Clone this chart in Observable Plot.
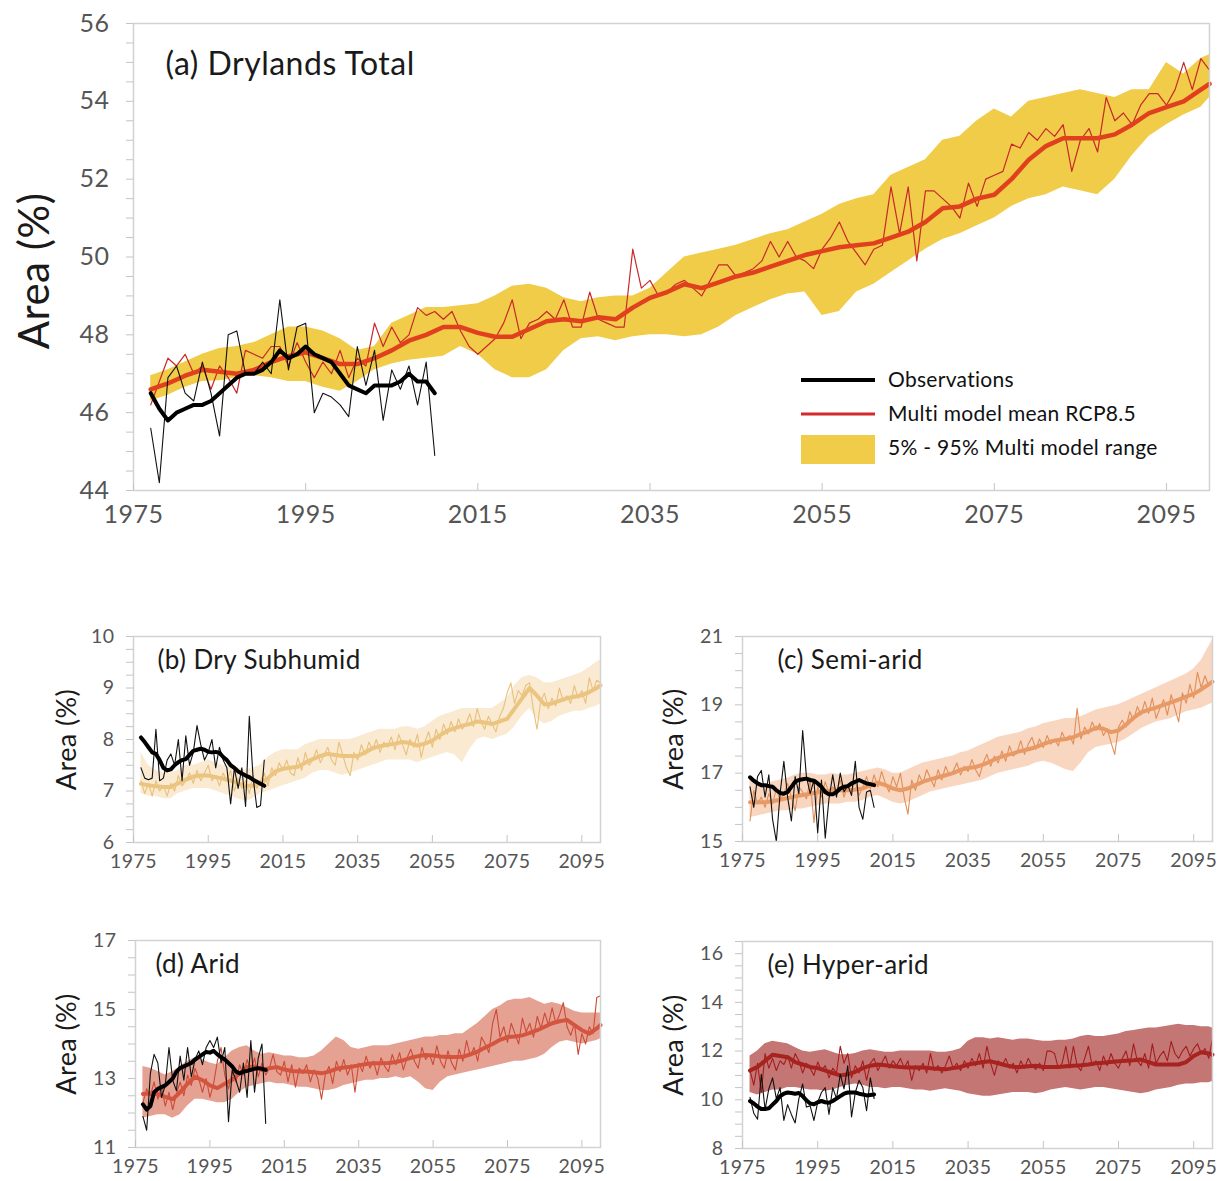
<!DOCTYPE html>
<html><head><meta charset="utf-8">
<script src="https://cdn.jsdelivr.net/npm/d3@7"></script>
<script src="https://cdn.jsdelivr.net/npm/@observablehq/plot@0.6"></script>
<style>
html,body{margin:0;padding:0;background:#fff;}
#root{position:relative;width:1219px;height:1181px;overflow:hidden;background:#fff;font-family:Lato,"Open Sans",sans-serif;}
#root svg{position:absolute;overflow:visible;}
</style></head>
<body><div id="root"></div>
<script>
// ---------- year grids ----------
const modelYears = d3.range(1977, 2101);              // annual model mean
const obsYears   = d3.range(1977, 2011);              // observations
const envYears   = d3.range(1977, 2100, 2).concat([2100]); // smoothed mean & 5-95% range
const xTicks = [1975, 1995, 2015, 2035, 2055, 2075, 2095];

// ---------- (a) Drylands Total ----------
const aModel = [46.2,46.8,47.4,47.2,47.5,47.0,47.2,46.6,47.2,46.9,
46.5,47.6,47.5,47.4,47.7,47.7,47.2,47.8,47.3,46.9,
47.3,47.0,47.6,46.9,47.4,47.2,48.3,47.7,48.2,47.8,
48.0,48.7,48.5,48.6,48.4,48.6,48.1,47.7,47.5,47.7,
47.9,48.3,48.9,47.9,48.3,48.4,48.6,48.4,48.9,48.2,
48.2,49.1,48.4,48.3,48.2,48.2,50.2,49.2,49.4,49.0,
49.1,49.3,49.4,49.2,49.0,49.4,49.8,49.8,49.5,49.6,
49.7,49.9,50.4,50.0,50.4,50.0,49.9,49.7,50.2,50.5,
50.9,50.4,50.1,49.8,50.2,50.3,51.8,50.6,51.8,49.9,
51.7,51.7,51.5,51.3,51.0,51.9,51.3,52.0,52.1,52.2,
52.9,52.8,53.2,53.0,53.3,53.1,53.4,52.2,53.0,53.3,
52.7,54.1,53.5,53.7,53.4,53.9,54.2,54.2,53.9,54.3,
55.0,54.3,55.1,54.8];
const aSmooth = [46.6,46.75,46.95,47.1,47.05,47.0,47.1,47.3,47.45,47.55,
47.4,47.25,47.25,47.4,47.6,47.85,48.0,48.2,48.2,48.05,
47.95,47.95,48.15,48.35,48.4,48.35,48.45,48.4,48.7,48.95,
49.1,49.3,49.2,49.35,49.5,49.6,49.75,49.9,50.05,50.15,
50.25,50.3,50.35,50.5,50.65,50.9,51.25,51.3,51.5,51.6,
52.0,52.5,52.85,53.05,53.05,53.05,53.15,53.4,53.7,53.85,
54.0,54.3,54.45];
const aHigh = [46.95,47.1,47.3,47.5,47.65,47.7,47.8,48.0,48.2,48.2,
48.1,47.9,47.6,47.7,48.3,48.5,48.7,48.7,48.75,48.8,
49.0,49.25,49.3,49.2,48.95,48.85,48.95,49.0,49.0,49.2,
49.6,50.0,50.1,50.2,50.3,50.45,50.6,50.7,50.9,51.1,
51.35,51.5,51.6,52.1,52.3,52.5,53.0,53.1,53.5,53.8,
53.6,54.0,54.1,54.2,54.3,54.2,54.1,54.3,54.3,55.0,
54.7,55.1,55.2];
const aLow = [46.3,46.45,46.65,46.8,46.82,46.9,46.95,46.9,46.8,46.8,
46.65,46.55,46.8,47.1,47.25,47.35,47.4,47.45,47.7,47.5,
47.1,46.9,46.9,47.1,47.6,47.9,47.95,47.85,47.95,48.0,
48.0,47.95,48.0,48.2,48.5,48.7,48.9,49.05,49.1,48.5,
48.6,49.1,49.3,49.6,49.9,50.2,50.45,50.6,50.8,51.0,
51.3,51.5,51.6,51.8,51.7,51.6,52.0,52.6,53.1,53.4,
53.65,53.85,54.1];
const aObs = [45.6,44.2,46.9,47.2,46.5,46.3,47.3,46.5,45.4,48.0,
48.1,47.0,47.0,47.3,47.0,48.9,47.1,48.2,48.3,46.0,
46.5,46.4,46.2,45.9,47.7,46.7,47.6,45.8,47.1,46.6,
47.2,46.2,47.3,44.9];
const aObsSmooth = [46.5,46.1,45.8,46.0,46.1,46.2,46.2,46.3,46.5,46.7,
46.9,47.0,47.0,47.1,47.3,47.6,47.4,47.5,47.7,47.5,
47.4,47.3,47.0,46.7,46.6,46.5,46.7,46.7,46.7,46.8,
47.0,46.8,46.8,46.5];

// ---------- (b) Dry Subhumid ----------
const bModel = [7.2,6.95,7.15,6.9,7.2,7.0,7.1,6.9,7.15,7.0,
7.3,7.1,7.2,7.35,7.15,7.4,7.2,7.35,7.5,7.2,
7.3,7.1,7.35,7.2,7.4,7.0,7.25,7.05,7.2,6.95,
7.3,7.05,7.2,7.35,7.1,7.45,7.3,7.55,7.4,7.6,
7.35,7.3,7.65,7.4,7.75,7.5,7.6,7.8,7.55,7.7,
7.85,7.6,7.5,7.95,7.7,7.45,7.3,7.75,7.6,7.9,
7.7,7.95,7.8,8.0,7.75,7.95,7.85,8.05,7.8,8.1,
7.9,7.7,8.0,7.85,8.1,7.65,7.95,8.15,7.85,8.2,
8.0,8.3,8.1,8.35,8.15,8.4,8.2,8.3,8.5,8.25,
8.6,8.35,8.2,8.45,8.3,8.15,8.45,8.6,8.9,9.1,
8.7,8.95,8.85,9.05,9.1,8.6,8.2,8.75,8.9,8.6,
8.8,8.65,9.0,8.75,8.85,8.7,9.05,8.8,8.95,8.7,
9.2,8.95,9.15,9.1];
const bSmooth = [7.14,7.11,7.09,7.08,7.08,7.15,7.22,7.28,7.3,7.3,
7.27,7.24,7.2,7.15,7.1,7.1,7.15,7.25,7.38,7.43,
7.45,7.47,7.55,7.62,7.68,7.72,7.7,7.68,7.68,7.68,
7.75,7.83,7.87,7.9,7.92,7.95,7.93,7.88,7.92,7.98,
8.08,8.17,8.22,8.27,8.3,8.35,8.33,8.3,8.35,8.4,
8.6,8.8,9.0,8.85,8.68,8.7,8.75,8.8,8.83,8.86,
8.92,9.0,9.05];
const bLow = [6.95,6.9,6.9,6.85,6.85,6.95,7.0,7.05,7.05,7.05,
7.0,6.95,6.9,6.85,6.8,6.85,6.95,7.0,7.05,7.1,
7.15,7.2,7.25,7.35,7.4,7.4,7.35,7.3,7.35,7.4,
7.45,7.5,7.55,7.6,7.6,7.6,7.6,7.55,7.6,7.65,
7.7,7.75,7.7,7.55,7.8,8.0,8.05,8.0,8.05,8.1,
8.25,8.45,8.6,8.4,8.3,8.35,8.45,8.5,8.55,8.55,
8.6,8.65,8.7];
const bHigh = [7.75,7.5,7.4,7.35,7.35,7.4,7.5,7.5,7.55,7.6,
7.55,7.5,7.45,7.45,7.4,7.45,7.5,7.65,7.75,7.8,
7.8,7.8,7.9,7.95,8.0,8.0,8.0,8.0,8.0,8.05,
8.1,8.15,8.2,8.2,8.2,8.25,8.25,8.2,8.25,8.35,
8.45,8.5,8.55,8.6,8.6,8.6,8.6,8.6,8.7,8.8,
9.05,9.2,9.25,9.2,9.1,9.1,9.15,9.2,9.25,9.3,
9.4,9.5,9.55];
const bObs = [7.45,7.25,7.22,7.25,8.2,7.2,7.25,7.6,7.72,7.5,
8.0,7.2,8.07,7.5,7.75,8.27,7.9,7.6,7.75,8.0,
7.45,7.85,7.6,7.45,6.75,7.45,7.05,7.45,6.7,8.45,
7.27,6.68,6.72,7.6];
const bObsSmooth = [8.04,7.95,7.85,7.75,7.72,7.6,7.45,7.4,7.42,7.5,
7.56,7.6,7.62,7.7,7.78,7.8,7.82,7.8,7.76,7.75,
7.76,7.74,7.66,7.6,7.5,7.45,7.38,7.34,7.3,7.27,
7.22,7.18,7.14,7.1];

// ---------- (c) Semi-arid ----------
const cModel = [15.6,16.5,16.1,16.3,16.0,16.4,16.1,16.55,16.2,16.4,
16.7,16.3,15.9,16.6,16.45,16.25,16.8,15.55,16.6,16.3,
16.75,16.4,16.6,16.45,16.8,16.3,16.65,16.5,16.75,16.35,
16.6,16.9,16.55,16.95,16.6,17.05,16.7,16.45,16.9,16.6,
17.0,16.3,15.8,16.8,16.5,16.95,16.7,17.1,16.85,16.6,
17.1,16.8,17.2,16.95,17.05,17.3,16.95,17.2,17.05,17.4,
17.1,16.9,17.3,17.55,17.2,17.5,17.3,17.65,17.35,17.8,
17.5,17.6,17.95,17.55,17.85,18.05,17.7,18.0,17.75,18.1,
17.85,18.0,17.8,18.2,17.95,18.1,17.85,18.9,18.0,18.35,
18.15,18.5,18.25,18.45,18.1,18.3,17.9,17.55,18.35,18.55,
18.35,18.8,18.55,18.95,18.7,19.1,18.75,19.2,18.6,18.9,
19.15,18.7,19.3,18.9,18.5,19.35,19.05,19.6,19.2,19.95,
19.5,19.85,19.55,19.7];
const cSmooth = [16.15,16.15,16.15,16.18,16.22,16.27,16.32,16.36,16.4,16.44,
16.47,16.5,16.5,16.5,16.52,16.55,16.65,16.72,16.65,16.55,
16.5,16.55,16.65,16.75,16.82,16.88,16.94,17.0,17.1,17.15,
17.18,17.25,17.35,17.45,17.52,17.58,17.65,17.7,17.76,17.85,
17.93,17.97,18.0,18.05,18.15,18.22,18.33,18.3,18.2,18.25,
18.42,18.62,18.78,18.85,18.92,19.0,19.07,19.15,19.24,19.32,
19.45,19.6,19.68];
const cLow = [15.7,15.75,15.8,15.85,15.9,15.9,15.95,15.95,16.0,16.05,
16.1,16.1,16.1,16.15,16.15,16.2,16.3,16.35,16.25,16.15,
16.1,16.15,16.25,16.35,16.45,16.5,16.55,16.6,16.65,16.7,
16.75,16.8,16.9,17.0,17.05,17.1,17.15,17.2,17.3,17.35,
17.3,17.2,17.1,17.05,17.3,17.6,17.75,17.8,17.85,17.9,
18.0,18.15,18.3,18.4,18.5,18.55,18.6,18.7,18.8,18.85,
18.9,19.0,19.05];
const cHigh = [16.85,16.7,16.65,16.75,16.8,16.85,16.95,17.0,17.0,16.95,
16.95,17.0,16.95,16.95,17.0,17.05,17.1,17.15,17.1,17.0,
17.0,17.1,17.2,17.3,17.35,17.4,17.45,17.5,17.6,17.65,
17.75,17.85,17.95,18.05,18.1,18.15,18.2,18.3,18.35,18.45,
18.5,18.55,18.6,18.6,18.65,18.75,18.85,18.9,18.95,19.0,
19.1,19.2,19.3,19.4,19.5,19.6,19.7,19.8,19.9,20.05,
20.3,20.7,20.9];
const cObs = [16.6,16.0,16.9,17.08,16.3,16.95,15.65,15.0,16.4,17.35,
16.3,15.6,16.9,16.4,18.25,16.9,16.4,16.8,15.25,16.8,
15.1,16.25,16.95,16.3,17.0,16.45,16.65,16.35,17.35,16.0,
15.65,16.45,16.5,16.0];
const cObsSmooth = [16.88,16.78,16.7,16.65,16.65,16.62,16.6,16.5,16.42,16.4,
16.45,16.6,16.75,16.8,16.82,16.84,16.8,16.78,16.7,16.6,
16.45,16.38,16.38,16.45,16.55,16.6,16.62,16.7,16.75,16.8,
16.75,16.7,16.68,16.65];

// ---------- (d) Arid ----------
const dModel = [12.3,12.7,12.5,12.9,12.4,12.75,12.2,12.6,12.1,12.55,
12.9,12.5,13.1,12.8,13.3,13.0,12.6,13.0,12.45,12.85,
13.5,13.9,13.1,12.7,13.2,12.9,13.4,13.1,13.55,13.2,
13.6,13.05,13.45,13.1,13.3,13.7,13.2,13.1,13.5,12.9,
13.4,12.75,13.3,13.15,13.4,12.9,13.25,13.0,12.4,13.1,
13.35,12.85,13.5,13.2,13.55,13.1,13.4,12.6,13.45,13.2,
13.65,13.3,13.5,13.1,13.6,13.35,13.2,13.7,13.4,13.75,
13.25,13.6,13.85,13.5,13.3,13.9,13.55,13.7,13.4,13.95,
13.5,13.3,13.8,13.45,13.25,13.85,13.5,14.1,13.65,13.9,
13.5,14.2,14.0,13.75,14.6,15.0,14.2,14.5,14.05,14.6,
14.3,14.0,14.75,14.35,14.6,14.2,14.8,14.45,14.9,14.55,
15.05,14.6,14.85,15.2,14.5,14.25,14.6,13.7,14.3,14.0,
14.5,14.3,15.35,15.4];
const dSmooth = [12.55,12.57,12.55,12.47,12.4,12.6,12.85,13.05,12.95,12.8,
12.72,12.85,12.96,13.15,13.33,13.35,13.25,13.3,13.33,13.26,
13.22,13.2,13.2,13.18,13.15,13.2,13.28,13.32,13.34,13.38,
13.42,13.44,13.44,13.45,13.48,13.53,13.6,13.65,13.68,13.67,
13.64,13.62,13.62,13.63,13.7,13.78,13.9,14.0,14.12,14.2,
14.22,14.25,14.32,14.4,14.5,14.6,14.66,14.7,14.55,14.4,
14.3,14.45,14.55];
const dLow = [11.85,11.9,11.95,11.95,11.85,11.95,12.2,12.4,12.4,12.35,
12.3,12.3,12.4,12.6,12.75,12.8,12.85,12.9,12.85,12.85,
12.8,12.75,12.75,12.7,12.65,12.65,12.7,12.8,12.85,12.9,
12.95,12.95,13.0,13.0,13.05,13.0,13.05,12.9,12.7,12.65,
12.9,13.05,13.1,13.15,13.2,13.25,13.3,13.35,13.4,13.45,
13.5,13.5,13.55,13.6,13.7,13.9,14.05,14.1,14.05,14.0,
14.05,14.1,14.15];
const dHigh = [13.35,13.3,13.2,13.1,13.2,13.35,13.5,13.6,13.55,13.45,
13.4,13.6,13.8,13.9,13.95,13.8,13.7,13.75,13.7,13.65,
13.65,13.6,13.6,13.65,13.8,14.0,14.2,14.1,13.9,13.85,
13.9,13.95,13.95,13.95,14.0,14.05,14.1,14.15,14.2,14.2,
14.25,14.25,14.3,14.3,14.45,14.6,14.8,15.0,15.1,15.25,
15.3,15.3,15.35,15.25,15.15,15.2,15.15,15.05,14.95,14.9,
14.9,14.9,14.9];
const dObs = [11.9,11.5,13.15,13.7,13.45,12.45,12.8,13.9,12.95,12.65,
13.65,12.95,13.9,13.05,13.55,13.8,13.4,13.9,14.1,13.9,
14.2,13.45,13.9,11.75,13.25,12.95,12.6,13.45,12.45,14.1,
12.6,13.6,14.0,11.7];
const dObsSmooth = [12.25,12.1,12.2,12.6,12.7,12.75,12.8,12.9,13.0,13.2,
13.3,13.35,13.4,13.45,13.55,13.62,13.7,13.77,13.75,13.8,
13.7,13.62,13.55,13.45,13.35,13.2,13.15,13.2,13.22,13.25,
13.28,13.3,13.28,13.25];

// ---------- (e) Hyper-arid ----------
const eModel = [11.2,10.6,11.5,10.3,11.9,11.3,11.7,11.2,11.6,11.45,
11.8,11.3,11.9,11.6,11.1,11.5,11.3,11.0,11.55,11.2,
11.4,10.9,11.3,11.1,12.2,11.5,11.9,10.9,11.4,11.1,
11.6,10.8,11.5,11.7,11.2,11.5,11.8,11.3,11.6,11.4,
11.7,11.3,11.6,10.8,11.4,11.2,11.5,11.1,11.9,11.2,
11.4,11.1,11.4,11.8,11.3,11.5,11.2,11.6,11.3,11.7,
11.4,11.9,11.3,12.2,11.5,11.0,11.6,11.4,11.7,11.3,
11.5,11.1,11.6,11.3,11.7,11.4,11.25,11.5,11.2,12.0,
12.0,11.9,11.3,11.5,12.2,11.3,12.2,11.4,11.2,11.7,
12.2,11.4,11.6,11.2,11.8,11.4,11.9,11.5,11.3,11.7,
12.0,11.4,12.3,11.6,11.4,11.9,11.3,12.3,11.5,11.8,
12.0,11.6,12.4,11.9,11.7,12.0,12.2,11.8,12.1,12.3,
11.9,12.1,11.7,12.5];
const eSmooth = [11.2,11.35,11.6,11.85,11.8,11.75,11.55,11.45,11.35,11.3,
11.2,11.1,11.0,11.05,11.15,11.3,11.4,11.45,11.42,11.38,
11.35,11.33,11.33,11.33,11.3,11.27,11.25,11.3,11.35,11.45,
11.5,11.55,11.58,11.5,11.42,11.35,11.35,11.38,11.4,11.35,
11.35,11.35,11.38,11.4,11.42,11.45,11.5,11.52,11.55,11.58,
11.6,11.62,11.65,11.55,11.45,11.45,11.45,11.45,11.55,11.8,
11.95,11.9,11.85];
const eLow = [10.3,10.2,10.3,10.4,10.4,10.5,10.5,10.45,10.4,10.4,
10.35,10.4,10.5,10.6,10.65,10.6,10.5,10.5,10.45,10.5,
10.5,10.45,10.4,10.4,10.35,10.4,10.45,10.4,10.35,10.25,
10.2,10.15,10.15,10.2,10.25,10.3,10.3,10.3,10.25,10.3,
10.4,10.45,10.5,10.45,10.4,10.45,10.5,10.5,10.45,10.4,
10.35,10.3,10.25,10.3,10.4,10.45,10.5,10.6,10.65,10.65,
10.7,10.7,10.75];
const eHigh = [11.8,12.0,12.3,12.4,12.35,12.3,12.15,12.0,11.95,12.0,
12.05,11.95,11.85,11.85,11.9,12.0,12.05,12.0,11.95,11.95,
12.0,12.0,12.0,12.0,12.0,11.95,11.95,12.0,12.1,12.4,
12.55,12.55,12.5,12.55,12.5,12.45,12.5,12.5,12.45,12.4,
12.4,12.45,12.45,12.5,12.6,12.65,12.6,12.6,12.65,12.7,
12.8,12.85,12.9,12.95,12.95,13.0,13.05,13.1,13.05,13.05,
13.0,13.0,12.95];
const eObs = [10.1,9.45,9.2,11.05,9.6,10.45,10.9,10.05,10.5,9.15,
9.8,9.4,9.05,10.05,10.65,9.7,9.75,9.15,9.9,10.3,
10.5,9.4,10.5,10.05,11.05,10.45,11.4,9.3,10.3,10.8,
10.5,9.55,10.9,10.05];
const eObsSmooth = [9.95,9.85,9.72,9.62,9.62,9.65,9.8,9.95,10.15,10.25,
10.3,10.28,10.25,10.28,10.15,9.98,9.85,9.82,9.9,9.95,
9.9,9.88,9.95,10.05,10.15,10.25,10.3,10.3,10.3,10.25,
10.22,10.18,10.2,10.22];

// ---------- legend text ----------
const legendLabels = ["Observations", "Multi model mean RCP8.5", "5% - 95% Multi model range"];

const FONT = "Lato, 'Open Sans', sans-serif";
const root = document.getElementById("root");

function drawPanel(c) {
  const env = envYears.map((year, i) => ({year, lo: c.low[i], hi: c.high[i], mid: c.smooth[i]}));
  const annual = modelYears.map((year, i) => ({year, v: c.model[i]}));
  const obs = obsYears.map((year, i) => ({year, v: c.obs[i], s: c.obsSmooth[i]}));
  const svg = Plot.plot({
    width: c.w, height: c.h,
    marginLeft: c.ml, marginRight: c.mr, marginTop: c.mt, marginBottom: c.mb,
    style: {fontFamily: FONT, fontSize: c.tickFont + "px", color: "#555", background: "transparent", overflow: "visible", letterSpacing: c.ls + "px"},
    x: {domain: [1975, 2100]},
    y: {domain: c.yDomain},
    marks: [
      Plot.areaY(env, {x: "year", y1: "lo", y2: "hi", fill: c.band}),
      Plot.line(annual, {x: "year", y: "v", stroke: c.thin, strokeWidth: c.thinW}),
      Plot.line(env, {x: "year", y: "mid", stroke: c.line, strokeWidth: c.thickW, strokeLinejoin: "round"}),
      Plot.line(obs, {x: "year", y: "v", stroke: "#111", strokeWidth: 1.1}),
      Plot.line(obs, {x: "year", y: "s", stroke: "#000", strokeWidth: c.obsW, strokeLinejoin: "round"}),
      Plot.frame({stroke: "#d2d2d2", strokeWidth: 1.5}),
      Plot.axisY({ticks: c.minor, tickSize: 7, tickFormat: () => "", stroke: "#c4c4c4", label: null}),
      Plot.axisY({ticks: c.major, tickSize: 0, tickPadding: c.yPad, tickFormat: d => String(d), label: null}),
      Plot.axisX({ticks: xTicks, tickSize: -7, tickFormat: () => "", stroke: "#c4c4c4", label: null}),
      Plot.axisX({ticks: xTicks, tickSize: 0, tickPadding: c.xPad, tickFormat: d => String(d), label: null}),
      Plot.text([c.title], {frameAnchor: "top-left", dx: c.tdx, dy: c.tdy, textAnchor: "start", lineAnchor: "top", fontSize: c.titleFont, fill: "#1a1a1a", letterSpacing: "0.3px"}),
      Plot.text(["Area (%)"], {frameAnchor: "left", dx: -c.yLabOff, dy: c.yLabDy, rotate: -90, textAnchor: "middle", lineAnchor: "middle", fontSize: c.yLabFont, fill: "#1a1a1a", letterSpacing: "0.5px"})
    ]
  });
  svg.style.left = c.left + "px";
  svg.style.top = c.top + "px";
  root.appendChild(svg);
}

const big = {tickFont: 25, ls: 0.5, titleFont: 32, yLabFont: 42, thinW: 1.2, thickW: 4.5, obsW: 4, yPad: 24, xPad: 15};
const small = {tickFont: 19.5, ls: 0.4, titleFont: 26, yLabFont: 27, thinW: 1.1, thickW: 4, obsW: 4, yPad: 19, xPad: 12};

drawPanel({...big, left: 0, top: 0, w: 1219, h: 540, ml: 133, mr: 10, mt: 23, mb: 50,
  yDomain: [44, 56], major: d3.range(44, 57, 2), minor: d3.range(44, 56.01, 0.5),
  model: aModel, smooth: aSmooth, low: aLow, high: aHigh, obs: aObs, obsSmooth: aObsSmooth,
  band: "#F0CC48", thin: "#C8282A", line: "#E0401E",
  title: "(a) Drylands Total", tdx: 32, tdy: 29, yLabOff: 98, yLabDy: 14});

drawPanel({...small, left: 0, top: 600, w: 610, h: 280, ml: 133, mr: 10, mt: 36, mb: 38,
  yDomain: [6, 10], major: [6, 7, 8, 9, 10], minor: d3.range(6, 10.01, 0.25),
  model: bModel, smooth: bSmooth, low: bLow, high: bHigh, obs: bObs, obsSmooth: bObsSmooth,
  band: "#FAEAD2", thin: "#E8C07C", line: "#EBC47F",
  title: "(b) Dry Subhumid", tdx: 24, tdy: 14, yLabOff: 66, yLabDy: 0});

drawPanel({...small, left: 610, top: 600, w: 609, h: 280, ml: 132, mr: 7, mt: 36, mb: 39,
  yDomain: [15, 21], major: [15, 17, 19, 21], minor: d3.range(15, 21.01, 0.5),
  model: cModel, smooth: cSmooth, low: cLow, high: cHigh, obs: cObs, obsSmooth: cObsSmooth,
  band: "#F8D6BF", thin: "#E08E58", line: "#E89A66",
  title: "(c) Semi-arid", tdx: 35, tdy: 14, yLabOff: 68, yLabDy: 0});

drawPanel({...small, left: 0, top: 900, w: 610, h: 281, ml: 135, mr: 10, mt: 40, mb: 34,
  yDomain: [11, 17], major: [11, 13, 15, 17], minor: d3.range(11, 17.01, 0.5),
  model: dModel, smooth: dSmooth, low: dLow, high: dHigh, obs: dObs, obsSmooth: dObsSmooth,
  band: "#E5A293", thin: "#CC4A36", line: "#D4553F",
  title: "(d) Arid", tdx: 20, tdy: 14, yLabOff: 68, yLabDy: 0});

drawPanel({...small, left: 610, top: 900, w: 609, h: 281, ml: 132, mr: 7, mt: 41, mb: 33,
  yDomain: [8, 16.5], major: [8, 10, 12, 14, 16], minor: d3.range(8, 16.51, 0.5),
  model: eModel, smooth: eSmooth, low: eLow, high: eHigh, obs: eObs, obsSmooth: eObsSmooth,
  band: "#C47675", thin: "#A31D1D", line: "#A8221F",
  title: "(e) Hyper-arid", tdx: 25, tdy: 14, yLabOff: 68, yLabDy: 0});

// ---------- legend for panel (a) ----------
const lg = d3.select(root).append("svg")
  .attr("width", 420).attr("height", 110)
  .style("left", "795px").style("top", "364px")
  .style("font-family", FONT).style("font-size", "21px");
const sw = [{t: "line", c: "#000", w: 4}, {t: "line", c: "#D42A2A", w: 3}, {t: "rect", c: "#F0CC48"}];
sw.forEach((s, i) => {
  const cy = 16 + i * 34;
  if (s.t === "line") lg.append("line").attr("x1", 6).attr("x2", 80).attr("y1", cy).attr("y2", cy).attr("stroke", s.c).attr("stroke-width", s.w);
  else lg.append("rect").attr("x", 6).attr("y", cy - 13).attr("width", 74).attr("height", 29).attr("fill", s.c);
  lg.append("text").attr("x", 93).attr("y", cy).attr("dy", "0.35em").attr("fill", "#111").style("letter-spacing", "0.3px").text(legendLabels[i]);
});
</script>
</body></html>
